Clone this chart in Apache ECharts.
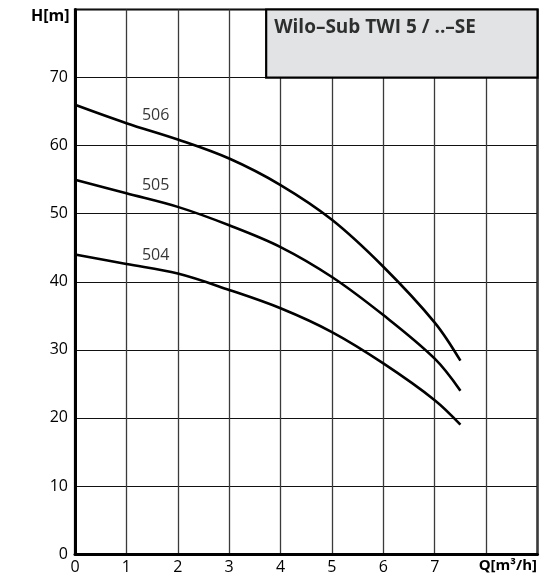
<!DOCTYPE html>
<html><head><meta charset="utf-8">
<script src="https://cdn.jsdelivr.net/npm/echarts@6/dist/echarts.min.js"></script>
<style>html,body{margin:0;padding:0;background:#fff}#c{width:557px;height:581px}</style>
</head><body><div id="c"></div>
<script>
const curve506 = [[0,66.0],[1,63.3],[2,60.9],[3,58.1],[4,54.2],[5,49.1],[6,42.2],[7,34.0],[7.5,28.4]];
const curve505 = [[0,55.0],[1,53.0],[2,51.0],[3,48.3],[4,45.1],[5,40.7],[6,35.1],[7,28.7],[7.5,24.0]];
const curve504 = [[0,44.0],[1,42.6],[2,41.2],[3,38.8],[4,36.1],[5,32.6],[6,28.0],[7,22.6],[7.5,19.0]];
const curveNames = ['506','505','504'];
const curveLabelPos = [[1.57,64.5],[1.57,54.2],[1.57,43.8]];
const xTicks = ['0','1','2','3','4','5','6','7'];
const yTicks = ['0','10','20','30','40','50','60','70'];
const titleText = 'Wilo–Sub TWI 5 / ..–SE';
const titleBox = [[3.72,70],[9,80]];

const FONT = '"Open Sans", "DejaVu Sans", sans-serif';
const chart = echarts.init(document.getElementById('c'), null, {renderer:'canvas'});
const lineSeries = (data, extra) => Object.assign({
  type:'line', data, smooth:0.35, showSymbol:false, symbol:'none',
  lineStyle:{color:'#000', width:2.6}, z:5, silent:true
}, extra || {});
chart.setOption({
  animation:false,
  grid:{left:75, top:9.5, right:19.5, bottom:27, show:true, borderColor:'#000', borderWidth:2.2, backgroundColor:'transparent'},
  xAxis:{type:'value', min:0, max:9, interval:1,
    axisLine:{show:true, onZero:false, lineStyle:{color:'#000', width:3}},
    axisTick:{show:false},
    splitLine:{show:true, lineStyle:{color:'#3a3a3a', width:1.3}},
    axisLabel:{color:'#000', fontFamily:FONT, fontSize:16, margin:5,
      formatter:(v)=> xTicks.includes(String(v)) ? String(v) : ''}
  },
  yAxis:{type:'value', min:0, max:80, interval:10,
    axisLine:{show:true, onZero:false, lineStyle:{color:'#000', width:3}},
    axisTick:{show:false},
    splitLine:{show:true, lineStyle:{color:'#111', width:1.2}},
    axisLabel:{color:'#000', fontFamily:FONT, fontSize:16, margin:7,
      formatter:(v)=> yTicks.includes(String(v)) ? String(v) : ''}
  },
  graphic:[
    {type:'text', right:20, top:558, style:{text:'Q[m³/h]', font:'bold 15px '+FONT, fill:'#000'}},
    {type:'text', left:31, top:8, style:{text:'H[m]', font:'bold 16px '+FONT, fill:'#000'}}
  ],
  series:[
    lineSeries(curve506, {
      markArea:{silent:true, z:2,
        itemStyle:{color:'#e2e3e5', borderColor:'#000', borderWidth:2.2},
        label:{show:false},
        data:[[{coord:titleBox[0]},{coord:titleBox[1]}]]
      }
    }),
    lineSeries(curve505), lineSeries(curve504),
    {type:'scatter', symbolSize:0, silent:true, z:6,
      data: curveLabelPos.map((p,i)=>({value:p, name:curveNames[i]})),
      label:{show:true, position:'inside', formatter:(p)=>p.name, fontFamily:FONT, fontSize:16, color:'#000'}
    },
    {type:'scatter', symbolSize:0, silent:true, z:7,
      data:[{value:[titleBox[0][0], titleBox[1][1]], name:titleText}],
      label:{show:true, position:[8,9], align:'left', verticalAlign:'top', formatter:(p)=>p.name,
        fontFamily:FONT, fontWeight:'bold', fontSize:19, color:'#000'}
    }
  ]
});
</script></body></html>
